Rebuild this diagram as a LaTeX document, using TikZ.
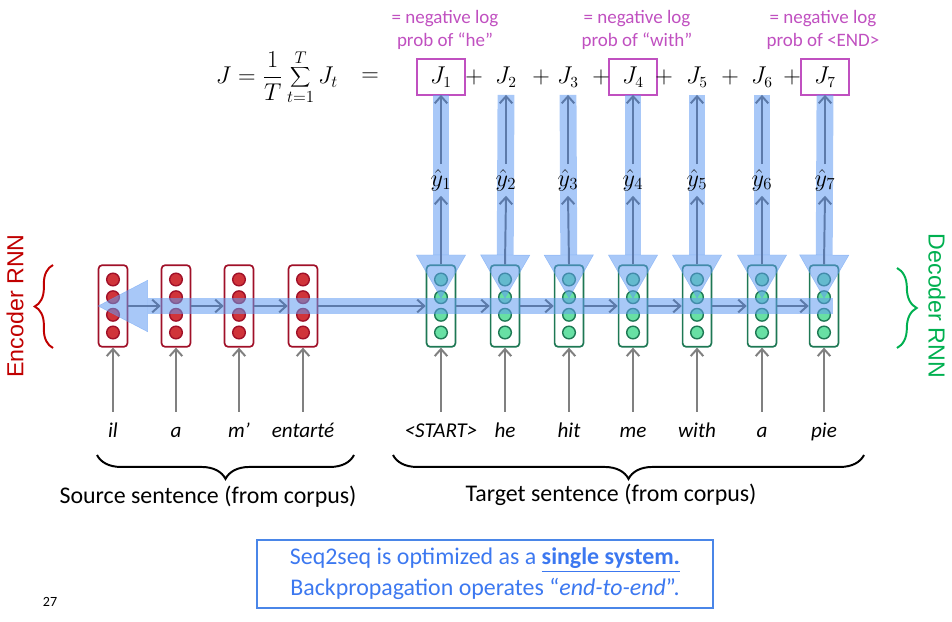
\documentclass[tikz,border=0pt]{standalone}
\usepackage{fontspec}
\setmainfont{Carlito}
\newfontfamily\rnnfont{Liberation Sans}
\usetikzlibrary{arrows.meta, positioning, decorations.pathreplacing, calc}
\definecolor{encred}{RGB}{208, 52, 58}
\definecolor{encdark}{RGB}{160, 16, 40}
\definecolor{decgreen}{RGB}{104, 224, 164}
\definecolor{decdark}{RGB}{30, 120, 84}
\definecolor{bandblue}{RGB}{97, 155, 242}
\definecolor{flowgray}{RGB}{92, 122, 170}
\definecolor{inputgray}{RGB}{128, 128, 128}
\definecolor{lossmagenta}{RGB}{192, 80, 192}
\definecolor{rnnred}{RGB}{192, 0, 0}
\definecolor{rnngreen}{RGB}{0, 176, 80}
\definecolor{noteblue}{RGB}{60, 120, 240}
\definecolor{noteborder}{RGB}{74, 134, 232}

\begin{document}
\begin{tikzpicture}[
    x=0.025cm, y=-0.025cm,
    cell/.style={rectangle, rounded corners=2.5pt, minimum width=20.5pt, minimum height=58pt, fill=white, line width=1.2pt, inner sep=0pt},
    unit/.style={circle, minimum size=9pt, inner sep=0pt, line width=1pt},
    word/.style={font=\fontsize{15}{17}\selectfont\itshape, text height=11pt, text depth=3pt},
    flow/.style={-{Straight Barb[length=5pt, width=9pt]}, line width=1.4pt, flowgray},
    input/.style={-{Straight Barb[length=5pt, width=9pt]}, line width=1.4pt, inputgray},
    band/.style={bandblue, opacity=0.55},
    loss/.style={font=\fontsize{16}{18}\selectfont, minimum width=32.7pt, minimum height=24pt, line width=1.4pt},
    note/.style={font=\fontsize{13.5}{16}\selectfont, lossmagenta, align=center},
    caption/.style={font=\fontsize{17}{20}\selectfont}
]
\useasboundingbox (0,0) rectangle (952,622);

% Encoder cells
\foreach \x [count=\i] in {113,176,239,303} {
    \node[cell, draw=encdark] (enc\i) at (\x,306) {};
    \foreach \dy [count=\k] in {-26.5,-8.8,8.8,26.5}
        \node[unit, fill=encred, draw=encdark] (enc\i u\k) at (\x,{306+\dy}) {};
}

% Decoder cells
\foreach \x [count=\i] in {441,505,569,633,697,762,824} {
    \node[cell, draw=decdark] (dec\i) at (\x,306) {};
    \foreach \dy [count=\k] in {-26.5,-8.8,8.8,26.5}
        \node[unit, fill=decgreen, draw=decdark] (dec\i u\k) at (\x,{306+\dy}) {};
}

% Loss terms
\node[font=\fontsize{17}{20}\selectfont] (jsum) at (277,77) {$J=\displaystyle\frac{1}{T}\sum_{t=1}^{T}J_t$};
\node[font=\fontsize{16}{18}\selectfont] (eq) at (370,77) {$=$};
\foreach \x [count=\i] in {441,506,568,633,697,762,825}
    \node[loss] (J\i) at (\x,77) {$J_{\i}$};
\foreach \i in {1,4,7}
    \draw[lossmagenta, line width=1.4pt] (J\i.south west) rectangle (J\i.north east);
\foreach \x [count=\i] in {474,541,601,664,730,792}
    \node[font=\fontsize{16}{18}\selectfont] (plus\i) at (\x,77) {$+$};

% Notes on the loss terms
\node[note] (note1) at (445,30) {= negative log\\prob of “he”};
\node[note] (note4) at (637,30) {= negative log\\prob of “with”};
\node[note] (note7) at (823,30) {= negative log\\prob of \textless END\textgreater};

% Backpropagation bands
\draw[band, line width=10.7pt, -{Triangle[length=35.6pt, width=37pt, line width'=0.3pt]}] ($(dec7.east)+(-6,0)$) -- (enc1.west);
\foreach \i in {1,...,7}
    \draw[band, line width=12pt, -{Triangle[length=31pt, width=35.5pt, line width'=0.3pt]}] (J\i.south) -- ($(dec\i.north)+(0,34)$);

% Outputs
\foreach \i in {1,...,7} {
    \node[font=\fontsize{17}{20}\selectfont] (yh\i) at (J\i|-0,180) {$\hat{y}_{\i}$};
    \draw[flow] (dec\i.north) -- (yh\i.south);
    \draw[flow] (yh\i.north) -- (J\i.south);
}

% Recurrent connections
\foreach \i/\j in {1/2,2/3,3/4}
    \draw[flow] (enc\i.east) -- (enc\j.west);
\draw[flow] (enc4.east) -- (dec1.west);
\foreach \i/\j in {1/2,2/3,3/4,4/5,5/6,6/7}
    \draw[flow] (dec\i.east) -- (dec\j.west);

% Input words
\foreach \w [count=\i] in {il,a,m’,entarté} {
    \node[word] (src\i) at (enc\i|-0,432) {\w};
    \draw[input, shorten <=4pt] (src\i.north) -- (enc\i.south);
}
\foreach \w [count=\i] in {\textless START\textgreater,he,hit,me,with,a,pie} {
    \node[word] (tgt\i) at (dec\i|-0,432) {\w};
    \draw[input, shorten <=4pt] (tgt\i.north) -- (dec\i.south);
}

% Braces and captions
\draw[decorate, decoration={brace, amplitude=13pt}, line width=1.4pt, rnnred] (53,348) -- (53,265);
\node[rnnred, rotate=90, font=\rnnfont\fontsize{16.5}{19}\selectfont] (enclabel) at (15,306) {Encoder RNN};
\draw[decorate, decoration={brace, amplitude=14pt}, line width=1.4pt, rnngreen] (897,268) -- (897,348);
\node[rnngreen, rotate=-90, font=\rnnfont\fontsize{16.5}{19}\selectfont] (declabel) at (937,306) {Decoder RNN};
\draw[decorate, decoration={brace, amplitude=17pt}, line width=1.4pt] (354,455) -- (97,455);
\node[caption] (srclabel) at (208,497) {Source sentence (from corpus)};
\draw[decorate, decoration={brace, amplitude=17pt}, line width=1.4pt] (864,455) -- (393,455);
\node[caption] (tgtlabel) at (611,495) {Target sentence (from corpus)};

% Summary box
\node[draw=noteborder, line width=1.4pt, text=noteblue, align=center, minimum width=324pt, minimum height=48pt, font=\fontsize{17}{22}\selectfont] (summary) at (485,574)
    {Seq2seq is optimized as a \underline{\textbf{single system.}}\\Backpropagation operates “\textit{end-to-end}”.};

\node[font=\fontsize{10}{12}\selectfont] (page) at (50,602) {27};
\end{tikzpicture}
\end{document}
